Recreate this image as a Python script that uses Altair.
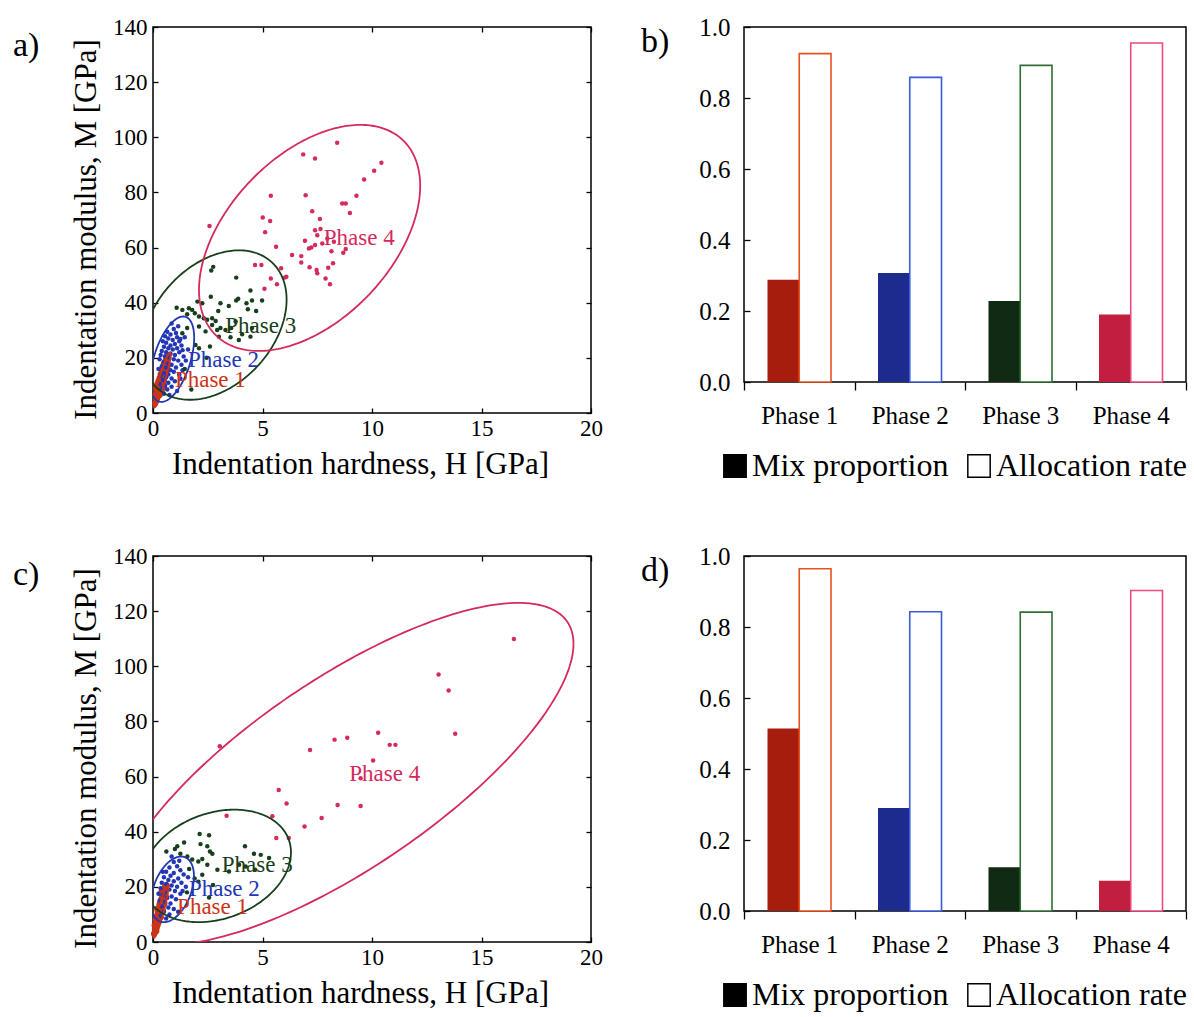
import altair as alt
import numpy as np
import pandas as pd

FONT = "Liberation Serif"
PHASES = ["Phase 1", "Phase 2", "Phase 3", "Phase 4"]
TYPES = ["Mix proportion", "Allocation rate"]
SCATTER_COLORS = ["#cc3418", "#2236b6", "#183f1c", "#d42a5c"]
MIX_COLORS = ["#a61d0e", "#1d2b8e", "#102a14", "#c21e40"]
ALLOC_COLORS = ["#e8521f", "#3b5bd8", "#2f6e34", "#ea4a80"]

# ---------------- panel a) scatter points (H [GPa], M [GPa]) ----------------
A_P1 = [(0.10, 3.5), (0.15, 5.0), (0.20, 6.0), (0.12, 6.5), (0.25, 7.0), (0.18, 7.5), (0.30, 8.0),
        (0.22, 8.5), (0.35, 9.0), (0.15, 9.0), (0.28, 9.5), (0.40, 10.0), (0.20, 10.5), (0.33, 11.0),
        (0.45, 11.0), (0.25, 11.5), (0.38, 12.0), (0.50, 12.0), (0.30, 12.5), (0.42, 13.0), (0.55, 13.5),
        (0.35, 14.0), (0.48, 14.5), (0.60, 14.5), (0.40, 15.0), (0.52, 15.5), (0.45, 16.0), (0.62, 16.5),
        (0.55, 17.0), (0.50, 18.0), (0.65, 18.0), (0.58, 19.0), (0.68, 19.5), (0.62, 20.5), (0.70, 21.0),
        (0.30, 6.5), (0.40, 8.0), (0.50, 9.5), (0.27, 10.0), (0.44, 12.5), (0.36, 13.0), (0.57, 15.0),
        (0.66, 17.0), (0.48, 11.5), (0.32, 10.0), (0.53, 13.0)]
A_P2 = [(0.95, 30.5), (1.05, 29.0), (0.80, 28.5), (1.10, 27.5), (0.70, 27.0), (0.90, 26.5), (1.20, 26.0),
        (0.60, 25.5), (1.00, 25.0), (0.80, 24.5), (1.30, 24.5), (0.50, 24.0), (0.70, 23.5), (1.10, 23.5),
        (0.90, 23.0), (0.40, 22.5), (0.60, 22.0), (1.20, 22.0), (0.80, 21.5), (1.00, 21.0), (0.35, 21.0),
        (0.55, 20.5), (1.40, 20.5), (0.75, 20.0), (0.95, 19.5), (0.30, 19.5), (1.15, 19.0), (0.50, 18.5),
        (0.70, 18.0), (0.85, 17.5), (1.30, 17.5), (0.40, 17.0), (0.60, 16.5), (1.05, 16.5), (0.25, 16.0),
        (0.80, 15.5), (0.95, 15.0), (0.50, 14.5), (0.70, 14.0), (1.20, 14.0), (0.35, 13.5), (0.60, 13.0),
        (0.85, 12.5), (0.45, 12.0), (1.00, 11.5), (0.70, 11.0), (0.30, 10.5), (0.55, 10.0), (0.85, 9.5),
        (0.40, 9.0), (0.65, 8.5), (1.10, 8.0), (0.50, 7.0), (0.75, 6.5), (1.25, 26.8), (0.65, 29.5),
        (1.15, 31.5), (0.85, 32.5), (1.35, 22.8), (1.50, 19.0), (1.45, 27.5), (0.45, 26.0), (1.60, 23.0),
        (0.55, 27.8), (1.25, 12.5), (1.35, 15.5)]
A_P3 = [(2.66, 51.7), (3.80, 49.1), (2.64, 42.2), (3.89, 41.4), (4.45, 44.4), (4.52, 40.8), (4.98, 40.8),
        (3.80, 40.8), (3.46, 38.8), (4.27, 39.8), (4.71, 37.0), (4.33, 37.6), (3.08, 39.8), (2.98, 37.0),
        (2.25, 39.8), (2.03, 40.4), (1.64, 38.0), (1.08, 38.2), (1.34, 37.4), (1.79, 37.4), (1.91, 36.2),
        (1.56, 35.8), (2.10, 35.0), (2.32, 34.4), (2.70, 34.4), (2.47, 33.8), (2.86, 33.4), (3.08, 30.8),
        (3.31, 30.1), (2.93, 30.1), (3.57, 30.8), (2.70, 31.9), (3.54, 27.5), (3.92, 26.5), (4.07, 28.6),
        (3.01, 27.7), (2.60, 24.1), (2.10, 23.5), (1.56, 30.8), (1.34, 28.9), (2.40, 29.6), (1.94, 24.7),
        (3.77, 33.2), (4.45, 27.7), (4.52, 30.8), (2.10, 31.4), (1.45, 16.0), (1.75, 8.5), (2.45, 20.0),
        (2.75, 53.0)]
A_P4 = [(8.41, 98.0), (6.86, 93.8), (7.40, 92.3), (10.43, 90.8), (10.10, 87.9), (9.64, 84.7), (5.38, 78.8),
        (6.97, 79.0), (9.29, 78.8), (8.64, 76.0), (8.80, 76.0), (5.01, 70.9), (5.35, 69.6), (7.27, 73.2),
        (7.62, 70.4), (8.99, 72.5), (2.58, 67.8), (5.12, 65.6), (7.40, 66.3), (7.65, 66.7), (7.50, 64.5),
        (7.96, 63.3), (8.26, 62.1), (6.94, 62.5), (5.62, 60.3), (7.12, 59.7), (7.23, 60.0), (7.40, 60.9),
        (7.73, 61.5), (8.15, 58.7), (8.80, 59.5), (8.69, 58.1), (6.35, 57.3), (6.77, 56.9), (6.77, 54.6),
        (4.66, 53.7), (4.95, 53.7), (5.85, 52.5), (7.15, 52.9), (7.47, 51.9), (7.50, 50.7), (8.00, 52.7),
        (8.22, 54.3), (5.38, 48.8), (6.09, 49.4), (6.02, 49.1), (7.88, 48.8), (8.08, 46.7), (5.66, 46.7),
        (5.09, 45.1)]

# ---------------- panel c) scatter points ----------------
C_P1 = [(0.05, 3.0), (0.10, 4.5), (0.08, 6.0), (0.15, 6.0), (0.20, 7.0), (0.12, 8.0), (0.25, 8.5),
        (0.18, 9.5), (0.30, 10.0), (0.22, 11.0), (0.35, 11.5), (0.28, 12.5), (0.40, 13.0), (0.32, 14.0),
        (0.45, 14.5), (0.38, 15.5), (0.50, 16.0), (0.42, 17.0), (0.55, 17.5), (0.48, 18.5), (0.60, 19.0),
        (0.55, 20.0), (0.62, 20.5), (0.15, 4.0), (0.27, 7.5), (0.35, 9.0), (0.44, 11.5), (0.52, 14.0),
        (0.58, 16.5), (0.20, 12.0), (0.30, 13.5), (0.38, 18.0)]
C_P2 = [(0.95, 29.0), (1.10, 27.5), (0.75, 27.0), (1.25, 26.0), (0.60, 25.5), (0.95, 25.0), (1.40, 24.5),
        (0.80, 24.0), (0.50, 23.5), (1.15, 23.0), (0.70, 22.5), (0.95, 22.0), (1.30, 21.5), (0.40, 21.5),
        (0.60, 21.0), (0.85, 20.5), (1.10, 20.0), (1.50, 20.0), (0.35, 19.5), (0.75, 19.0), (1.00, 18.5),
        (0.55, 18.0), (1.25, 17.5), (0.45, 17.0), (0.85, 16.5), (0.65, 16.0), (1.05, 15.5), (0.30, 15.0),
        (0.55, 14.5), (0.80, 14.0), (0.40, 13.0), (0.70, 12.5), (0.95, 12.0), (0.50, 11.0), (0.75, 10.0),
        (0.35, 9.5), (0.60, 8.5), (1.60, 23.5), (1.20, 29.5), (0.85, 31.0), (0.45, 25.5), (1.35, 18.5),
        (0.25, 17.5), (1.15, 11.0)]
C_P3 = [(2.13, 39.2), (2.56, 38.7), (2.17, 35.5), (1.42, 36.1), (1.11, 34.7), (1.00, 33.7), (0.61, 32.8),
        (2.48, 34.7), (2.60, 32.8), (2.71, 32.0), (2.07, 29.2), (2.48, 28.0), (2.94, 26.2), (4.20, 34.7),
        (4.61, 32.0), (4.92, 31.6), (4.23, 27.4), (3.93, 28.0), (2.25, 30.1), (3.47, 25.6), (1.79, 29.9),
        (1.57, 31.0), (2.74, 20.7), (2.56, 16.1), (4.66, 26.2), (5.30, 30.5), (2.25, 24.4), (2.07, 21.9),
        (1.25, 32.0), (1.65, 26.5), (1.90, 23.0), (1.55, 18.0)]
C_P4 = [(16.48, 109.9), (13.04, 97.0), (13.50, 91.2), (13.80, 75.5), (3.05, 71.0), (7.17, 69.6),
        (8.29, 73.4), (8.87, 74.1), (10.28, 75.9), (10.81, 71.5), (11.07, 71.5), (10.05, 65.8),
        (9.48, 59.4), (5.74, 55.1), (6.10, 50.2), (8.43, 49.7), (9.48, 49.3), (7.70, 45.0), (6.92, 41.9),
        (3.36, 45.8), (5.45, 45.6), (5.63, 37.7), (6.20, 37.7)]

# ---------------- ellipses: centre H, centre M, H half-range, M half-range, correlation ----------------
A_ELL_CX = [0.42, 0.88, 2.80, 7.15]
A_ELL_CY = [12.0, 19.5, 31.9, 63.5]
A_ELL_AX = [0.38, 1.00, 3.30, 5.05]
A_ELL_BY = [10.0, 15.5, 27.1, 41.0]
A_ELL_RHO = [0.92, 0.50, 0.34, 0.46]

C_ELL_CX = [0.36, 0.89, 2.90, 8.70]
C_ELL_CY = [11.0, 19.1, 27.6, 61.0]
C_ELL_AX = [0.34, 0.98, 3.40, 10.50]
C_ELL_BY = [9.5, 11.9, 20.4, 62.0]
C_ELL_RHO = [0.92, 0.40, 0.24, 0.76]

# ---------------- phase label anchor positions ----------------
A_LAB_H = [1.00, 1.60, 3.30, 7.80]
A_LAB_M = [12.0, 19.3, 31.7, 63.3]
C_LAB_H = [1.10, 1.64, 3.14, 8.96]
C_LAB_M = [12.8, 19.2, 28.0, 60.8]

# ---------------- bar values ----------------
B_MIX = [0.288, 0.307, 0.228, 0.190]
B_ALLOC = [0.925, 0.858, 0.892, 0.955]
D_MIX = [0.514, 0.290, 0.123, 0.085]
D_ALLOC = [0.964, 0.843, 0.842, 0.903]

X_TICKS = [0, 5, 10, 15, 20]
Y_TICKS = [0, 20, 40, 60, 80, 100, 120, 140]
BAR_TICKS = [0.0, 0.2, 0.4, 0.6, 0.8, 1.0]


def points_df(groups):
    rows = []
    for ph, pts in zip(PHASES, groups):
        for h, m in pts:
            rows.append({"phase": ph, "H": h, "M": m, "sz": 40 if ph == "Phase 1" else 20})
    return pd.DataFrame(rows)


def ellipse_df(cx, cy, ax, by, rho):
    rows = []
    t = np.linspace(0, 2 * np.pi, 241)
    for i, ph in enumerate(PHASES):
        d = np.arccos(rho[i])
        for k, tt in enumerate(t):
            rows.append({"phase": ph, "k": k,
                         "H": cx[i] + ax[i] * np.cos(tt),
                         "M": cy[i] + by[i] * np.cos(tt - d)})
    return pd.DataFrame(rows)


def labels_df(hs, ms):
    return pd.DataFrame({"phase": PHASES, "H": hs, "M": ms, "text": PHASES})


def bars_df(mix, alloc):
    rows = []
    for ph, m, a in zip(PHASES, mix, alloc):
        rows.append({"phase": ph, "type": "Mix proportion", "value": m})
        rows.append({"phase": ph, "type": "Allocation rate", "value": a})
    return pd.DataFrame(rows)


def inward(orient, values, size=5):
    return alt.Axis(orient=orient, values=values, labels=False, domain=False, grid=False,
                    ticks=True, tickSize=size, tickWidth=1.3, tickColor="black",
                    offset=-size, title=None)


XS = alt.Scale(domain=[0, 20], nice=False, zero=False)
YS = alt.Scale(domain=[0, 140], nice=False, zero=False)
COL = alt.Scale(domain=PHASES, range=SCATTER_COLORS)


def letter_title(text, dx, dy):
    return alt.TitleParams(text, anchor="start", frame="group", orient="top", dx=dx, dy=dy,
                           font=FONT, fontSize=34, fontWeight="normal", color="black",
                           baseline="middle", offset=0)


def scatter_panel(pts, ell, labs, letter, w, h):
    main_x = alt.Axis(orient="bottom", values=X_TICKS, title="Indentation hardness, H [GPa]",
                      ticks=False, tickSize=0, domain=False, grid=False, labelPadding=4,
                      titlePadding=9, titleX=207, labelFont=FONT, labelFontSize=23, titleFont=FONT,
                      titleFontSize=31, titleFontWeight="normal", labelColor="black",
                      titleColor="black", labelFlush=False)
    main_y = alt.Axis(orient="left", values=Y_TICKS, title="Indentation modulus,  M [GPa]",
                      ticks=False, tickSize=0, domain=False, grid=False, labelPadding=6,
                      titlePadding=10, titleY=202, labelFont=FONT, labelFontSize=23, titleFont=FONT,
                      titleFontSize=31, titleFontWeight="normal", labelColor="black",
                      titleColor="black", labelFlush=False)
    p = alt.Chart(pts).mark_circle(opacity=1).encode(
        x=alt.X("H:Q", scale=XS, axis=main_x),
        y=alt.Y("M:Q", scale=YS, axis=main_y),
        color=alt.Color("phase:N", scale=COL, legend=None),
        size=alt.Size("sz:Q", scale=None),
    )
    e = alt.Chart(ell).mark_line(strokeWidth=1.8, clip=True).encode(
        x=alt.X("H:Q", scale=XS, axis=inward("bottom", X_TICKS)),
        y=alt.Y("M:Q", scale=YS, axis=inward("left", Y_TICKS)),
        color=alt.Color("phase:N", scale=COL, legend=None),
        detail="phase:N",
        order="k:Q",
    )
    t = alt.Chart(labs).mark_text(font=FONT, fontSize=23, align="left", baseline="middle").encode(
        x=alt.X("H:Q", scale=XS, axis=inward("top", X_TICKS)),
        y=alt.Y("M:Q", scale=YS, axis=inward("right", Y_TICKS)),
        text="text:N",
        color=alt.Color("phase:N", scale=COL, legend=None),
    )
    return alt.layer(p, e, t).resolve_axis(x="independent", y="independent").properties(
        width=w, height=h, title=letter_title(letter, -140, 64))


def bar_panel(df, letter, w, h):
    xsc = alt.Scale(domain=PHASES, paddingInner=0, paddingOuter=0)
    xoff = alt.XOffset("type:N", scale=alt.Scale(domain=TYPES, paddingInner=0, paddingOuter=0.74))
    ys = alt.Scale(domain=[0, 1], nice=False, zero=True)
    mix = alt.Chart(df).transform_filter(alt.datum.type == "Mix proportion").mark_bar().encode(
        x=alt.X("phase:N", scale=xsc, axis=alt.Axis(
            title=None, labelAngle=0, tickBand="extent", ticks=True, tickSize=8, tickWidth=1.3,
            tickColor="black", domain=False, grid=False, labelPadding=13, labelFont=FONT,
            labelFontSize=25, labelColor="black")),
        xOffset=xoff,
        y=alt.Y("value:Q", scale=ys, axis=alt.Axis(
            values=BAR_TICKS, format=".1f", ticks=False, tickSize=0, domain=False, grid=False,
            labelPadding=14, labelFont=FONT, labelFontSize=25, labelColor="black", title=None,
            labelFlush=False)),
        color=alt.Color("phase:N", scale=alt.Scale(domain=PHASES, range=MIX_COLORS), legend=None),
    )
    alloc = alt.Chart(df).transform_filter(alt.datum.type == "Allocation rate").mark_bar(
        fill="white", strokeWidth=1.6).encode(
        x=alt.X("phase:N", scale=xsc, axis=None),
        xOffset=xoff,
        y=alt.Y("value:Q", scale=ys, axis=inward("left", BAR_TICKS, 6)),
        stroke=alt.Stroke("phase:N", scale=alt.Scale(domain=PHASES, range=ALLOC_COLORS), legend=None),
    )
    leg = alt.Chart(df).mark_point(shape="square", filled=True, opacity=0, stroke="black",
                                   strokeWidth=1.5).encode(
        x=alt.X("phase:N", scale=xsc, axis=None),
        xOffset=xoff,
        y=alt.Y("value:Q", scale=ys, axis=None),
        fill=alt.Fill("type:N", scale=alt.Scale(domain=TYPES, range=["black", "white"]),
                      legend=alt.Legend(title=None, orient="none", legendX=-25, legendY=423,
                                        direction="horizontal", symbolType="square",
                                        symbolSize=500, symbolStrokeColor="black",
                                        symbolStrokeWidth=1.5, symbolOpacity=1,
                                        labelFont=FONT, labelFontSize=32, labelColor="black",
                                        columnPadding=14, labelOffset=1, labelLimit=400)),
    )
    return alt.layer(mix, alloc, leg).resolve_axis(x="independent", y="independent").properties(
        width=w, height=h, title=letter_title(letter, -103, 61))


a = scatter_panel(points_df([A_P1, A_P2, A_P3, A_P4]),
                  ellipse_df(A_ELL_CX, A_ELL_CY, A_ELL_AX, A_ELL_BY, A_ELL_RHO),
                  labels_df(A_LAB_H, A_LAB_M), "a)", 438, 386)
c = scatter_panel(points_df([C_P1, C_P2, C_P3, C_P4]),
                  ellipse_df(C_ELL_CX, C_ELL_CY, C_ELL_AX, C_ELL_BY, C_ELL_RHO),
                  labels_df(C_LAB_H, C_LAB_M), "c)", 438, 386)
b = bar_panel(bars_df(B_MIX, B_ALLOC), "b)", 442, 355)
d = bar_panel(bars_df(D_MIX, D_ALLOC), "d)", 442, 355)

chart = alt.concat(a, b, c, d, columns=2, spacing={"row": 143, "column": 153},
                   bounds="flush").resolve_scale(
    color="independent", fill="independent", stroke="independent", size="independent"
).properties(
    padding={"left": 12, "top": 14, "right": 0, "bottom": 0},
    background="white",
).configure_view(stroke="black", strokeWidth=1.5)

chart.save("out.html", embed_options={"renderer": "svg", "actions": False})
